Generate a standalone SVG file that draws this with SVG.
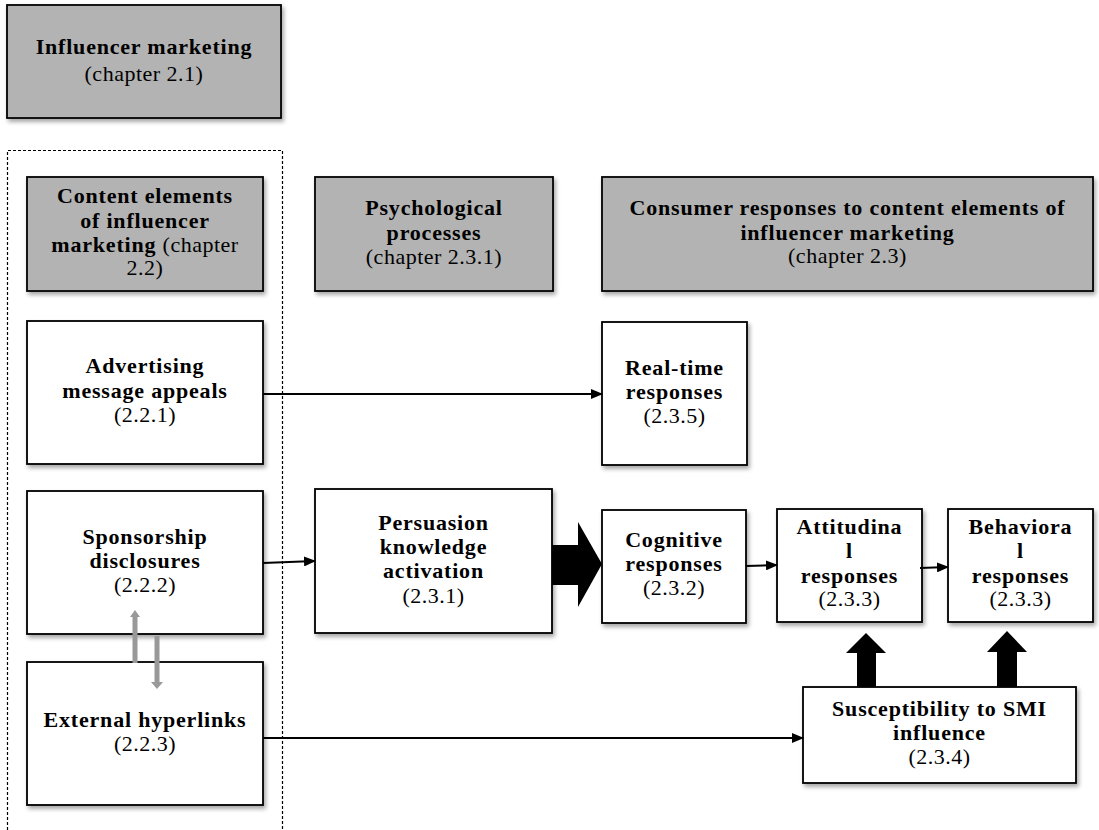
<svg xmlns="http://www.w3.org/2000/svg" width="1099" height="830" viewBox="0 0 1099 830">
<style>
  .box { fill: #ffffff; stroke: #000000; stroke-width: 1.8; filter: url(#sh); }
  .hdr { fill: #b3b3b3; stroke: #000000; stroke-width: 1.8; filter: url(#sh); }
  .b { font-family: "Liberation Serif", "Times New Roman", serif; font-size: 22px; font-weight: bold; letter-spacing: 0.8px; fill: #000; text-anchor: middle; }
  .r { font-family: "Liberation Serif", "Times New Roman", serif; font-size: 22px; font-weight: normal; letter-spacing: 0.5px; fill: #000; text-anchor: middle; }
  .ln { stroke: #000; stroke-width: 2; fill: none; marker-end: url(#ah); }
  .big { fill: #000; stroke: none; }
  .grey { fill: #999999; stroke: none; }
</style>
<defs>
  <filter id="sh" x="-10%" y="-10%" width="125%" height="130%">
    <feDropShadow dx="2" dy="3" stdDeviation="2" flood-color="#000" flood-opacity="0.35"/>
  </filter>
  <marker id="ah" markerWidth="12" markerHeight="10" refX="11" refY="5" orient="auto" markerUnits="userSpaceOnUse">
    <path d="M0,0 L12,5 L0,10 Z" fill="#000"/>
  </marker>
</defs>
<rect width="1099" height="830" fill="#ffffff"/>

<g id="container">
  <path d="M7.5,840 L7.5,150.5 L282.5,150.5 L282.5,840" fill="none" stroke="#000" stroke-width="1.2" stroke-dasharray="3,2"/>
</g>

<g id="n-influencer-marketing">
  <rect class="hdr" x="7" y="5" width="274" height="113"/>
  <text class="b" x="144" y="54">Influencer marketing</text>
  <text class="r" x="144" y="81">(chapter 2.1)</text>
</g>

<g id="n-content-elements">
  <rect class="hdr" x="27" y="177" width="236" height="114"/>
  <text class="b" x="145" y="203">Content elements</text>
  <text class="b" x="145" y="228">of influencer</text>
  <text class="b" x="145" y="252">marketing <tspan style="font-weight:normal;letter-spacing:0.5px">(chapter</tspan></text>
  <text class="r" x="145" y="275">2.2)</text>
</g>

<g id="n-psychological">
  <rect class="hdr" x="315" y="177" width="238" height="114"/>
  <text class="b" x="434" y="215">Psychological</text>
  <text class="b" x="434" y="240">processes</text>
  <text class="r" x="434" y="264">(chapter 2.3.1)</text>
</g>

<g id="n-consumer-responses">
  <rect class="hdr" x="602" y="177" width="491" height="114"/>
  <text class="b" x="847.5" y="215">Consumer responses to content elements of</text>
  <text class="b" x="847.5" y="240">influencer marketing</text>
  <text class="r" x="847.5" y="263">(chapter 2.3)</text>
</g>

<g id="n-advertising">
  <rect class="box" x="27" y="321" width="236" height="143"/>
  <text class="b" x="145" y="373">Advertising</text>
  <text class="b" x="145" y="398">message appeals</text>
  <text class="r" x="145" y="422">(2.2.1)</text>
</g>

<g id="n-realtime">
  <rect class="box" x="602" y="322" width="145" height="143"/>
  <text class="b" x="674.5" y="375">Real-time</text>
  <text class="b" x="674.5" y="399">responses</text>
  <text class="r" x="674.5" y="423">(2.3.5)</text>
</g>

<g id="n-sponsorship">
  <rect class="box" x="27" y="491" width="236" height="143"/>
  <text class="b" x="145" y="544">Sponsorship</text>
  <text class="b" x="145" y="568">disclosures</text>
  <text class="r" x="145" y="592">(2.2.2)</text>
</g>

<g id="n-external">
  <rect class="box" x="27" y="662" width="236" height="143"/>
  <text class="b" x="145" y="727">External hyperlinks</text>
  <text class="r" x="145" y="751">(2.2.3)</text>
</g>

<g id="n-persuasion">
  <rect class="box" x="315" y="489" width="237" height="144"/>
  <text class="b" x="433.5" y="530">Persuasion</text>
  <text class="b" x="433.5" y="554">knowledge</text>
  <text class="b" x="433.5" y="578">activation</text>
  <text class="r" x="433.5" y="603">(2.3.1)</text>
</g>

<g id="n-cognitive">
  <rect class="box" x="602" y="510" width="144" height="113"/>
  <text class="b" x="674" y="547">Cognitive</text>
  <text class="b" x="674" y="571">responses</text>
  <text class="r" x="674" y="595">(2.3.2)</text>
</g>

<g id="n-attitudinal">
  <rect class="box" x="777" y="509" width="145" height="113"/>
  <text class="b" x="849.5" y="534">Attitudina</text>
  <text class="b" x="849.5" y="558">l</text>
  <text class="b" x="849.5" y="583">responses</text>
  <text class="r" x="849.5" y="606">(2.3.3)</text>
</g>

<g id="n-behavioral">
  <rect class="box" x="948" y="509" width="145" height="113"/>
  <text class="b" x="1020.5" y="534">Behaviora</text>
  <text class="b" x="1020.5" y="558">l</text>
  <text class="b" x="1020.5" y="583">responses</text>
  <text class="r" x="1020.5" y="606">(2.3.3)</text>
</g>

<g id="n-susceptibility">
  <rect class="box" x="803" y="687" width="273" height="96"/>
  <text class="b" x="939.5" y="716">Susceptibility to SMI</text>
  <text class="b" x="939.5" y="740">influence</text>
  <text class="r" x="939.5" y="764">(2.3.4)</text>
</g>

<g id="connectors">
  <line class="ln" x1="263" y1="394" x2="602" y2="394"/>
  <line class="ln" x1="263" y1="563" x2="315" y2="561"/>
  <line class="ln" x1="263" y1="738" x2="803" y2="738"/>
  <line class="ln" x1="746" y1="566" x2="777" y2="565"/>
  <line class="ln" x1="920" y1="568" x2="948" y2="567"/>
  <path class="big" d="M552,545 L578,545 L578,522 L602,564 L578,607 L578,585 L552,585 Z"/>
  <path class="big" d="M857,687 L857,653 L846,653 L866,633 L886,653 L876,653 L876,687 Z"/>
  <path class="big" d="M997,687 L997,652 L987,652 L1007,631 L1027,652 L1017,652 L1017,687 Z"/>
  <path class="grey" d="M132.5,663 L132.5,617 L130,617 L135,610 L140,617 L137.5,617 L137.5,663 Z"/>
  <path class="grey" d="M154.5,636 L159.5,636 L159.5,682 L163,682 L157,689 L151,682 L154.5,682 Z"/>
</g>
</svg>
